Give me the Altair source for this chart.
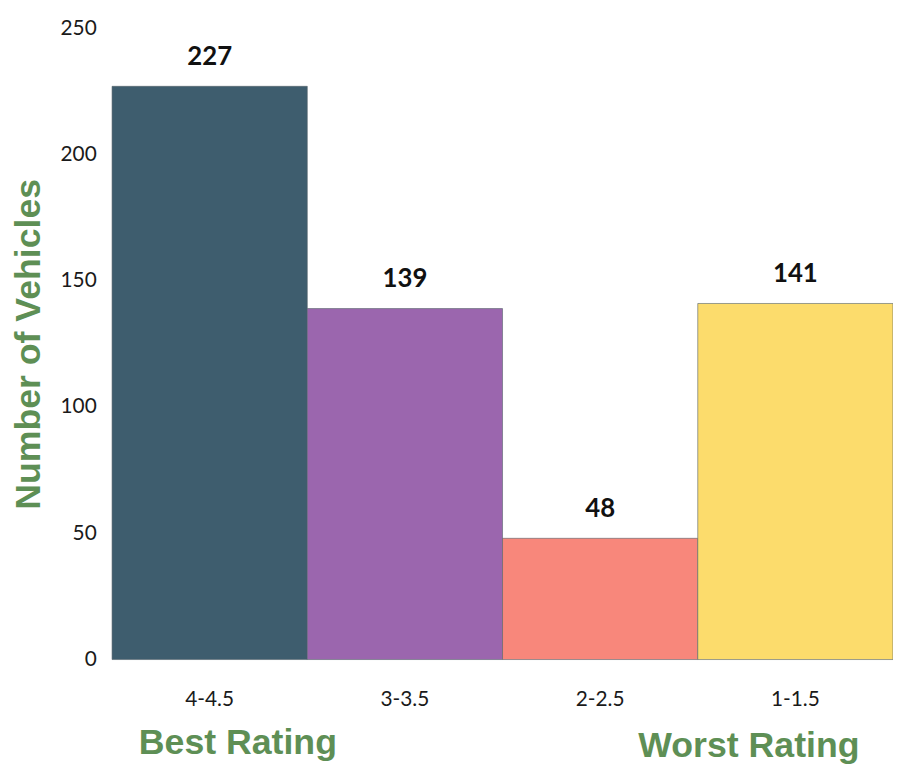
import altair as alt
import pandas as pd

categories = ["4-4.5", "3-3.5", "2-2.5", "1-1.5"]
counts = [227, 139, 48, 141]
colors = ["#3e5d6e", "#9b66ae", "#f8877b", "#fcdc6c"]
y_ticks = [0, 50, 100, 150, 200, 250]

df = pd.DataFrame({"rating": categories, "count": counts, "color": colors})
ann = pd.DataFrame({"label": ["Best Rating", "Worst Rating"]})

x = alt.X("rating:N", sort=categories,
          scale=alt.Scale(paddingInner=0, paddingOuter=0),
          axis=alt.Axis(title=None, labelAngle=0, labelFontSize=21, labelFont="Lato",
                        labelColor="#1a1a1a", labelPadding=29, ticks=False, domain=False))
y = alt.Y("count:Q", scale=alt.Scale(domain=[0, 250], nice=False),
          axis=alt.Axis(title="Number of Vehicles", values=y_ticks, grid=False, domain=False,
                        ticks=False, labelFontSize=21, labelFont="Lato", labelColor="#1a1a1a",
                        labelPadding=16, titleFontSize=36, titleFont="Liberation Sans",
                        titleFontWeight="bold", titleColor="#5e8f55", titlePadding=13))

bars = alt.Chart(df).mark_bar(stroke="#55626a", strokeWidth=1, strokeOpacity=0.6).encode(
    x=x, y=y, color=alt.Color("color:N", scale=None))

labels = alt.Chart(df).mark_text(fontSize=26, fontWeight="bold", font="Lato",
                                 baseline="bottom", dy=-17, color="#111111").encode(
    x=alt.X("rating:N", sort=categories), y="count:Q", text="count:Q")

best = alt.Chart(ann).transform_filter(alt.datum.label == "Best Rating").mark_text(
    fontSize=36, fontWeight="bold", font="Liberation Sans", color="#5e8f55",
    baseline="alphabetic", align="left").encode(x=alt.value(27), y=alt.value(732), text="label:N")
worst = alt.Chart(ann).transform_filter(alt.datum.label == "Worst Rating").mark_text(
    fontSize=36, fontWeight="bold", font="Liberation Sans", color="#5e8f55",
    baseline="alphabetic", align="left").encode(x=alt.value(531), y=alt.value(735), text="label:N")

chart = alt.layer(bars, labels, best, worst).properties(
    width=788, height=637,
    autosize=alt.AutoSizeParams(type="none"),
    padding={"left": 105, "top": 17, "right": 0, "bottom": 104},
).configure_view(stroke=None)

chart.save("out.html", embed_options={"renderer": "svg", "actions": False})
